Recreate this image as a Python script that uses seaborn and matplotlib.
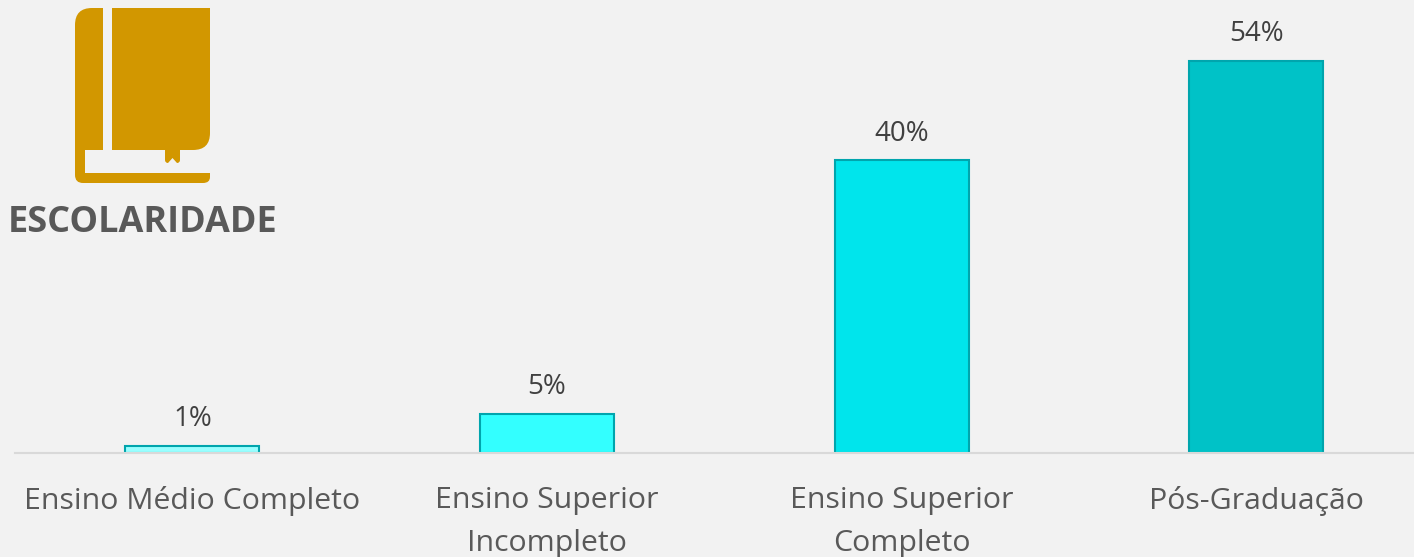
import matplotlib
matplotlib.use('Agg')
from matplotlib import pyplot as plt
from matplotlib.path import Path
from matplotlib.patches import PathPatch
import seaborn as sns
import pandas as pd

categorias = ['Ensino Médio Completo', 'Ensino Superior\nIncompleto', 'Ensino Superior\nCompleto', 'Pós-Graduação']
valores = [1.0, 5.4, 40.3, 54.0]
cores = ['#99FFFF', '#33FFFF', '#00E5EC', '#00C2C7']
titulo = 'ESCOLARIDADE'

fundo = '#F2F2F2'
sns.set_theme(style='white')
plt.rcParams['font.family'] = ['Open Sans', 'DejaVu Sans']

df = pd.DataFrame({'cat': categorias, 'val': valores})

fig = plt.figure(figsize=(14.14, 5.57), dpi=100, facecolor=fundo)
ax = fig.add_axes([15/1414, (557-453)/557, (1414-15)/1414, 453/557], facecolor=fundo)

sns.barplot(data=df, x='cat', y='val', hue='cat', palette=cores, legend=False, saturation=1,
            width=0.378, edgecolor='#00A5AD', linewidth=1.5, ax=ax)

ax.set_xlim(-0.5, 3.445)
ax.set_ylim(0, 62.4)
ax.set_xlabel('')
ax.set_ylabel('')
ax.set_yticks([])
sns.despine(ax=ax, left=True)
ax.spines['bottom'].set_color('#D9D9D9')
ax.spines['bottom'].set_linewidth(1.5)
ax.tick_params(axis='x', length=0, pad=24, labelsize=21.8, labelcolor='#595959')
for t in ax.get_xticklabels():
    t.set_linespacing(1.62)

for c in ax.containers:
    ax.bar_label(c, labels=[f'{round(c.datavalues[0])}%'], padding=9, fontsize=20, color='#404040')

# icone do livro, em pixels da figura
ov = fig.add_axes([0, 0, 1, 1], facecolor='none')
ov.set_xlim(0, 1414)
ov.set_ylim(557, 0)
ov.axis('off')

M, L, Q, Z = Path.MOVETO, Path.LINETO, Path.CURVE3, Path.CLOSEPOLY
capa = [(103, 8, M), (92, 8, L), (75, 8, Q), (75, 25, Q), (75, 175, L), (75, 183, Q), (83, 183, Q),
        (203, 183, L), (210, 183, Q), (210, 177, Q), (210, 173, L), (85, 173, L), (85, 150, L),
        (103, 150, L), (103, 8, Z)]
miolo = [(112, 8, M), (210, 8, L), (210, 133, L), (210, 150, Q), (193, 150, Q), (180, 150, L),
         (180, 160, L), (180, 163, Q), (177, 163, Q), (172.5, 158, L), (168, 163, L), (165, 163, Q),
         (165, 160, Q), (165, 150, L), (112, 150, L), (112, 8, Z)]
for forma in [capa, miolo]:
    caminho = Path([(p[0], p[1]) for p in forma], [p[2] for p in forma])
    ov.add_patch(PathPatch(caminho, facecolor='#D29700', edgecolor='none'))

ov.text(8, 232, titulo, fontsize=25.9, fontweight='bold', color='#595959', ha='left', va='baseline')

fig.savefig('out.png', dpi=100, facecolor=fundo)
